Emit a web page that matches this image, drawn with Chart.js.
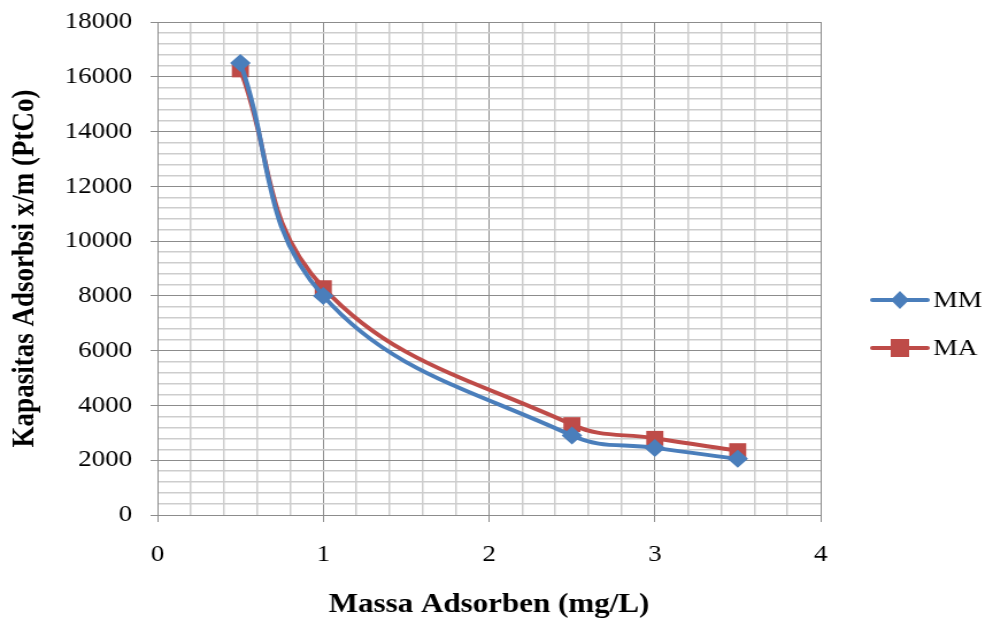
<!DOCTYPE html>
<html>
<head>
<meta charset="utf-8">
<script src="https://cdn.jsdelivr.net/npm/chart.js@4"></script>
<style>
  html, body { margin: 0; padding: 0; background: #fff; }
  /* the source picture is stretched sideways, so the canvas is too */
  #chart { display: block; width: 993px; height: 621px; }
</style>
</head>
<body>
<canvas id="chart" width="864" height="621" style="width:993px;height:621px"></canvas>
<script>
// data
const massa = [0.5, 1, 2.5, 3, 3.5];
const mmValues = [16500, 8000, 2900, 2450, 2050];
const maValues = [16250, 8300, 3300, 2800, 2350];
const seriesNames = ["MM", "MA"];

const blue = "#4a7ebb";
const red = "#be4b48";
const serif = "'Liberation Serif', 'Times New Roman', serif";

const isMajor = (v, step) => Math.abs(v / step - Math.round(v / step)) < 1e-6;

// legend drawn as line + marker, like the spreadsheet one
const lineLegend = {
  id: "lineLegend",
  afterDraw(chart) {
    const { ctx } = chart;
    chart.data.datasets.forEach((ds, i) => {
      const y = 300 + i * 48;
      const cx = 783;
      ctx.save();
      ctx.strokeStyle = ds.borderColor;
      ctx.lineWidth = 4;
      ctx.lineCap = "round";
      ctx.beginPath();
      ctx.moveTo(759, y);
      ctx.lineTo(807, y);
      ctx.stroke();
      ctx.fillStyle = ds.backgroundColor;
      if (ds.pointStyle === "rect") {
        ctx.fillRect(cx - 8, y - 9, 16, 18);
      } else {
        ctx.beginPath();
        ctx.moveTo(cx, y - 9);
        ctx.lineTo(cx + 8, y);
        ctx.lineTo(cx, y + 9);
        ctx.lineTo(cx - 8, y);
        ctx.closePath();
        ctx.fill();
      }
      ctx.fillStyle = "#000";
      ctx.font = "24px " + serif;
      ctx.textBaseline = "middle";
      ctx.textAlign = "left";
      ctx.fillText(ds.label, 812, y + 1);
      ctx.restore();
    });
  }
};

new Chart(document.getElementById("chart"), {
  type: "scatter",
  data: {
    datasets: [
      {
        label: seriesNames[0],
        data: massa.map((x, i) => ({ x: x, y: mmValues[i] })),
        showLine: true,
        tension: 0.4,
        borderColor: blue,
        backgroundColor: blue,
        borderWidth: 4,
        pointStyle: "rectRot",
        pointRadius: 9,
        pointHoverRadius: 9,
        pointBorderWidth: 0
      },
      {
        label: seriesNames[1],
        data: massa.map((x, i) => ({ x: x, y: maValues[i] })),
        showLine: true,
        tension: 0.4,
        borderColor: red,
        backgroundColor: red,
        borderWidth: 4,
        pointStyle: "rect",
        pointRadius: 10.5,
        pointHoverRadius: 10.5,
        pointBorderWidth: 0
      }
    ]
  },
  options: {
    responsive: false,
    animation: false,
    layout: { padding: { left: 0, right: 150, top: 22, bottom: 0 } },
    plugins: {
      legend: { display: false },
      tooltip: { enabled: false }
    },
    scales: {
      x: {
        type: "linear",
        min: 0,
        max: 4,
        afterFit: (scale) => { scale.height = 106; },
        ticks: {
          stepSize: 0.2,
          autoSkip: false,
          maxRotation: 0,
          padding: 19,
          color: "#000",
          font: { family: serif, size: 23.5 },
          callback: (v) => (isMajor(v, 1) ? String(Math.round(v)) : "")
        },
        grid: {
          color: (c) => (isMajor(c.tick.value, 1) ? "#8c8c8c" : "#cdcdcd"),
          lineWidth: (c) => (isMajor(c.tick.value, 1) ? 1 : 1.5),
          tickColor: (c) => (isMajor(c.tick.value, 1) ? "#8c8c8c" : "rgba(0,0,0,0)"),
          tickLength: 7
        },
        border: { color: "#8c8c8c", width: 1 },
        title: {
          display: true,
          text: "Massa Adsorben (mg/L)",
          color: "#000",
          font: { family: serif, size: 27, weight: "bold" },
          padding: { top: 0, bottom: 0 }
        }
      },
      y: {
        type: "linear",
        min: 0,
        max: 18000,
        afterFit: (scale) => {
          scale.width = 137;
          scale.paddingTop = 0; // top label may overhang, like the original
        },
        ticks: {
          stepSize: 400,
          autoSkip: false,
          padding: 16,
          color: "#000",
          font: { family: serif, size: 23.5 },
          callback: (v) => (isMajor(v, 2000) ? String(v) : "")
        },
        grid: {
          color: (c) => (isMajor(c.tick.value, 2000) ? "#8c8c8c" : "#cdcdcd"),
          lineWidth: (c) => (isMajor(c.tick.value, 2000) ? 1 : 1.5),
          tickColor: (c) => (isMajor(c.tick.value, 2000) ? "#8c8c8c" : "rgba(0,0,0,0)"),
          tickLength: 6
        },
        border: { color: "#8c8c8c", width: 1 },
        title: {
          display: true,
          text: "Kapasitas Adsorbsi x/m (PtCo)",
          color: "#000",
          font: { family: serif, size: 27, weight: "bold" },
          padding: { top: 6, bottom: 0 }
        }
      }
    }
  },
  plugins: [lineLegend]
});
</script>
</body>
</html>
